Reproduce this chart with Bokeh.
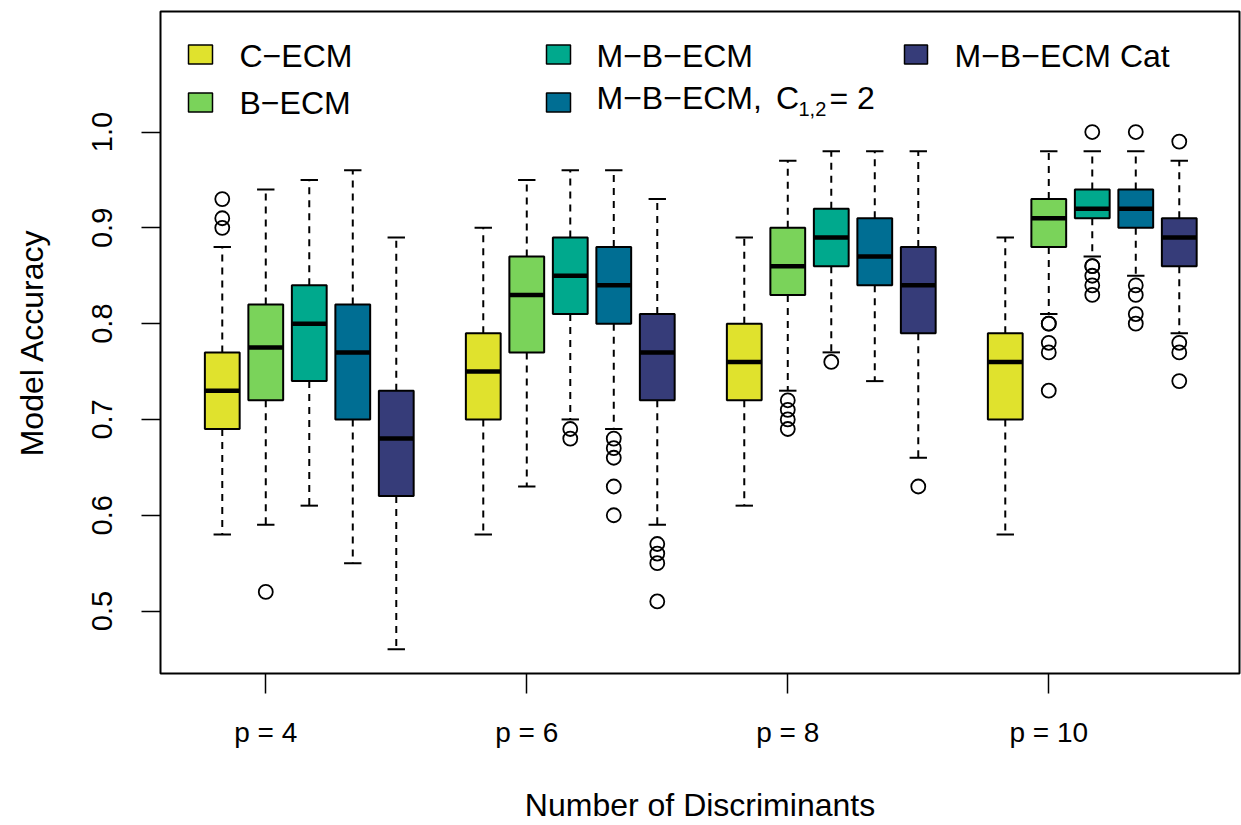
import math
from bokeh.plotting import figure
from bokeh.models import ColumnDataSource, FixedTicker, Range1d, Label, BoxAnnotation
from bokeh.embed import file_html
from bokeh.resources import INLINE

# ---------------- data ----------------
p_labels = ["p = 4", "p = 6", "p = 8", "p = 10"]
methods = ["C\u2212ECM", "B\u2212ECM", "M\u2212B\u2212ECM", "M\u2212B\u2212ECM, C1,2 = 2", "M\u2212B\u2212ECM Cat"]
colors = ["#E0E22D", "#7AD35A", "#00A98D", "#006E93", "#363C79"]

# C-ECM
cecm_lower = [0.58, 0.58, 0.61, 0.58]
cecm_q1 = [0.69, 0.70, 0.72, 0.70]
cecm_med = [0.73, 0.75, 0.76, 0.76]
cecm_q3 = [0.77, 0.79, 0.80, 0.79]
cecm_upper = [0.88, 0.90, 0.89, 0.89]
cecm_out = [[0.93, 0.91, 0.90], [], [], []]

# B-ECM
becm_lower = [0.59, 0.63, 0.73, 0.81]
becm_q1 = [0.72, 0.77, 0.83, 0.88]
becm_med = [0.775, 0.83, 0.86, 0.91]
becm_q3 = [0.82, 0.87, 0.90, 0.93]
becm_upper = [0.94, 0.95, 0.97, 0.98]
becm_out = [[0.52], [], [0.72, 0.71, 0.70, 0.69], [0.80, 0.80, 0.78, 0.77, 0.73]]

# M-B-ECM
mbecm_lower = [0.61, 0.70, 0.77, 0.87]
mbecm_q1 = [0.74, 0.81, 0.86, 0.91]
mbecm_med = [0.80, 0.85, 0.89, 0.92]
mbecm_q3 = [0.84, 0.89, 0.92, 0.94]
mbecm_upper = [0.95, 0.96, 0.98, 0.98]
mbecm_out = [[], [0.69, 0.68], [0.76], [1.00, 0.86, 0.86, 0.85, 0.84, 0.83]]

# M-B-ECM, C12 = 2
mbc2_lower = [0.55, 0.69, 0.74, 0.85]
mbc2_q1 = [0.70, 0.80, 0.84, 0.90]
mbc2_med = [0.77, 0.84, 0.87, 0.92]
mbc2_q3 = [0.82, 0.88, 0.91, 0.94]
mbc2_upper = [0.96, 0.96, 0.98, 0.98]
mbc2_out = [[], [0.68, 0.67, 0.66, 0.63, 0.60], [], [1.00, 0.84, 0.83, 0.81, 0.80]]

# M-B-ECM Cat
mbcat_lower = [0.46, 0.59, 0.66, 0.79]
mbcat_q1 = [0.62, 0.72, 0.79, 0.86]
mbcat_med = [0.68, 0.77, 0.84, 0.89]
mbcat_q3 = [0.73, 0.81, 0.88, 0.91]
mbcat_upper = [0.89, 0.93, 0.98, 0.97]
mbcat_out = [[], [0.57, 0.56, 0.55, 0.51], [0.63], [0.99, 0.78, 0.77, 0.74]]

y_ticks = [0.5, 0.6, 0.7, 0.8, 0.9, 1.0]
y_tick_labels = ["0.5", "0.6", "0.7", "0.8", "0.9", "1.0"]

stats = [
    (cecm_lower, cecm_q1, cecm_med, cecm_q3, cecm_upper, cecm_out),
    (becm_lower, becm_q1, becm_med, becm_q3, becm_upper, becm_out),
    (mbecm_lower, mbecm_q1, mbecm_med, mbecm_q3, mbecm_upper, mbecm_out),
    (mbc2_lower, mbc2_q1, mbc2_med, mbc2_q3, mbc2_upper, mbc2_out),
    (mbcat_lower, mbcat_q1, mbcat_med, mbcat_q3, mbcat_upper, mbcat_out),
]

# ---------------- build sources ----------------
BOXW = 0.8
cols = dict(x=[], xl=[], xr=[], sl=[], sr=[], lower=[], q1=[], med=[], q3=[], upper=[], color=[])
ox, oy = [], []
n_groups = len(p_labels)
n_methods = len(methods)
for m, (lo, q1, md, q3, up, outs) in enumerate(stats):
    for g in range(n_groups):
        x = g * (n_methods + 1) + m + 1
        cols["x"].append(x)
        cols["xl"].append(x - BOXW / 2)
        cols["xr"].append(x + BOXW / 2)
        cols["sl"].append(x - BOXW / 4)
        cols["sr"].append(x + BOXW / 4)
        cols["lower"].append(lo[g])
        cols["q1"].append(q1[g])
        cols["med"].append(md[g])
        cols["q3"].append(q3[g])
        cols["upper"].append(up[g])
        cols["color"].append(colors[m])
        for v in outs[g]:
            ox.append(x)
            oy.append(v)
src = ColumnDataSource(cols)
osrc = ColumnDataSource(dict(x=ox, y=oy))

# ---------------- figure geometry ----------------
W, H = 1241, 825
BL, BR, BT, BB = 160, 2, 11, 152
frame_w = W - BL - BR
frame_h = H - BT - BB
unit_x = 43.5
x0 = -0.42
x1 = x0 + frame_w / unit_x
unit_y = 958.0
y0 = 0.4348
y1 = y0 + frame_h / unit_y

FONT = "Liberation Sans"

p = figure(width=W, height=H, output_backend="svg", toolbar_location=None,
           x_range=Range1d(x0, x1), y_range=Range1d(y0, y1),
           min_border_left=BL, min_border_right=BR, min_border_top=BT, min_border_bottom=BB)
p.background_fill_color = "white"
p.border_fill_color = "white"
p.outline_line_color = "black"
p.outline_line_width = 2
p.xgrid.visible = False
p.ygrid.visible = False

# axes
p.xaxis.ticker = FixedTicker(ticks=[g * (n_methods + 1) + 2 for g in range(n_groups)])
p.xaxis.major_label_overrides = {g * (n_methods + 1) + 2: lab for g, lab in enumerate(p_labels)}
p.yaxis.ticker = FixedTicker(ticks=y_ticks)
p.yaxis.major_label_overrides = dict(zip(y_ticks, y_tick_labels))
for ax in (p.xaxis[0], p.yaxis[0]):
    ax.axis_line_color = None
    ax.major_tick_in = 0
    ax.minor_tick_line_color = None
    ax.major_tick_line_color = "black"
    ax.major_tick_line_width = 1.5
    ax.major_label_text_font = FONT
    ax.major_label_text_color = "black"
    ax.axis_label_text_font = FONT
    ax.axis_label_text_font_size = "32px"
    ax.axis_label_text_font_style = "normal"
    ax.axis_label_text_color = "black"
p.xaxis.major_label_text_font_size = "28px"
p.yaxis.major_label_text_font_size = "29px"
p.xaxis.major_tick_out = 20
p.yaxis.major_tick_out = 19
p.yaxis.major_label_orientation = "parallel"
p.xaxis.major_label_standoff = 23
p.yaxis.major_label_standoff = 29
p.xaxis.axis_label = "Number of Discriminants"
p.yaxis.axis_label = "Model Accuracy"
p.xaxis.axis_label_standoff = 36
p.yaxis.axis_label_standoff = 40

# ---------------- boxplots ----------------
p.segment(x0="x", x1="x", y0="q3", y1="upper", source=src, line_color="black",
          line_width=2, line_dash="7 6")
p.segment(x0="x", x1="x", y0="q1", y1="lower", source=src, line_color="black",
          line_width=2, line_dash="7 6")
p.segment(x0="sl", x1="sr", y0="upper", y1="upper", source=src, line_color="black", line_width=2)
p.segment(x0="sl", x1="sr", y0="lower", y1="lower", source=src, line_color="black", line_width=2)
p.quad(left="xl", right="xr", bottom="q1", top="q3", source=src, fill_color="color",
       line_color="black", line_width=2)
p.segment(x0="xl", x1="xr", y0="med", y1="med", source=src, line_color="black",
          line_width=4.5, line_cap="butt")
p.scatter(x="x", y="y", source=osrc, marker="circle", size=14, fill_color=None,
          line_color="black", line_width=1.8)

# ---------------- legend (manual, R style) ----------------
PAGE_LEFT = BL
PAGE_BOTTOM = BT + frame_h


def px2x(px):
    return x0 + (px - PAGE_LEFT) / unit_x


def px2y(py):
    return y0 + (PAGE_BOTTOM - py) / unit_y


MID = 0.3465  # em-box middle above the baseline

sq_cols = [(188, 212), (546, 570), (904, 927)]
sq_rows = [(44.5, 63.5), (92.5, 111.5)]
txt_x = [239, 596, 954]
txt_base = [66.3, 114.0]

for i, name in enumerate(methods):
    c, r = i // 2, i % 2
    (l, rr), (t, b) = sq_cols[c], sq_rows[r]
    p.add_layout(BoxAnnotation(left=px2x(l), right=px2x(rr), top=px2y(t), bottom=px2y(b),
                               fill_color=colors[i], fill_alpha=1.0, line_color="black",
                               line_width=1.5, line_alpha=1.0))
    if i == 3:
        pieces = [("M\u2212B\u2212ECM,", txt_x[c], 109.0, 32),
                  ("C", 775.5, 109.0, 32),
                  ("1,2", 798, 115.5, 20),
                  ("= 2", 829, 109.0, 32)]
    else:
        pieces = [(name, txt_x[c], txt_base[r], 32)]
    for text, tx, ty, fs in pieces:
        p.add_layout(Label(x=px2x(tx), y=px2y(ty - MID * fs), text=text, text_font=FONT,
                           text_font_size=f"{fs}px", text_color="black",
                           text_align="left", text_baseline="middle"))

open("out.html", "w").write(file_html(p, INLINE))
